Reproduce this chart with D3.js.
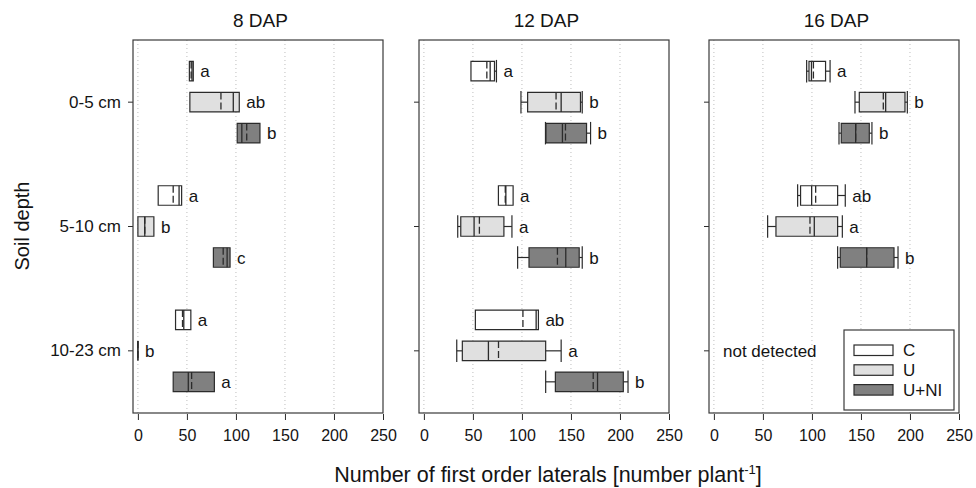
<!DOCTYPE html>
<html>
<head>
<meta charset="utf-8">
<script src="https://cdn.jsdelivr.net/npm/d3@7/dist/d3.min.js"></script>
<style>
  html, body { margin: 0; padding: 0; background: #fff; }
  svg { display: block; font-family: "Liberation Sans", Arial, sans-serif; }
</style>
</head>
<body>
<svg id="chart" width="976" height="488"></svg>
<script>
// Sampling days (panels), soil depths (rows) and fertiliser treatments
const days = ["8 DAP", "12 DAP", "16 DAP"];
const depths = ["0-5 cm", "5-10 cm", "10-23 cm"];
const treatments = ["C", "U", "U+NI"];
const fills = ["#ffffff", "#e0e0e0", "#808080"];
const xTicks = [0, 50, 100, 150, 200, 250];

// Box statistics, indexed [day][depth][treatment]; null = not measured
const whiskerLow = [
  [[null, null, null], [null, null, null], [null, null, null]],
  [[null, 99, 124], [null, 34.5, 95.6], [null, 33.5, 124.2]],
  [[94.6, 143.9, 127.6], [85.4, 54.8, 126.2], [null, null, null]]
];
const quartile1 = [
  [[52.5, 53, 101.3], [20.7, 0, 77], [38.4, 0, 36]],
  [[48, 105.8, 124.5], [76, 37.6, 107.2], [52.5, 39.2, 134.1]],
  [[97, 148.3, 129.9], [88.4, 63.3, 128.9], [null, null, null]]
];
const medians = [
  [[55.2, 97.3, 106], [42, 7, 91], [46.8, 0, 51.4]],
  [[67.6, 140, 141.3], [83.6, 51.2, 144.7], [114.5, 65.8, 177.1]],
  [[99.5, 175.2, 144.6], [99.7, 102.4, 155.8], [null, null, null]]
];
const means = [
  [[54.3, 84.7, 111], [36, 7, 87], [45.5, 0, 54.8]],
  [[64.2, 134.8, 144.4], [83, 56.6, 136.2], [101, 76.1, 172.7]],
  [[101.5, 172.8, 144.6], [103.8, 98, 155.8], [null, null, null]]
];
const quartile3 = [
  [[56.5, 103.4, 124.5], [44.6, 16.3, 94], [54, 0, 78]],
  [[72, 159.7, 165.9], [91, 81.6, 158.4], [116.8, 124.2, 203.4]],
  [[113.9, 194.9, 158.5], [126.2, 126.2, 183.7], [null, null, null]]
];
const whiskerHigh = [
  [[null, null, null], [null, null, null], [null, null, null]],
  [[74, 161.5, 170], [null, 89.8, 161.5], [null, 140, 208.2]],
  [[118.5, 197.3, 161.2], [134, 131, 187.8], [null, null, null]]
];
const letters = [
  [["a", "ab", "b"], ["a", "b", "c"], ["a", "b", "a"]],
  [["a", "b", "b"], ["a", "a", "b"], ["ab", "a", "b"]],
  [["a", "b", "b"], ["ab", "a", "b"], [null, null, null]]
];

const svg = d3.select("#chart");
const ink = "#2b2b2b";
const textInk = "#141414";
const frameTop = 40, frameBottom = 413;
const panelLeft = [133, 419, 709];
const panelWidth = 250;
const boxH = 19.5;
const offsets = [-31, 0, 31];

const y = d3.scaleBand().domain(depths).range([frameTop, frameBottom]);

days.forEach((day, d) => {
  const x = d3.scaleLinear().domain([-5, 250]).range([panelLeft[d], panelLeft[d] + panelWidth]);
  const g = svg.append("g");

  // dotted vertical grid
  g.selectAll("line.grid").data(xTicks.slice(0, -1)).join("line")
    .attr("x1", v => x(v)).attr("x2", v => x(v))
    .attr("y1", frameTop).attr("y2", frameBottom)
    .attr("stroke", "#bdbdbd").attr("stroke-width", 1)
    .attr("stroke-dasharray", "1,3");

  // bottom axis
  const xAxis = d3.axisBottom(x).tickValues(xTicks).tickSize(6).tickPadding(10).tickSizeOuter(0);
  const ax = g.append("g").attr("transform", `translate(0,${frameBottom + 1})`).call(xAxis);
  ax.select(".domain").remove();
  ax.selectAll(".tick line").attr("stroke", ink);
  ax.selectAll(".tick text").attr("fill", textInk).style("font-size", "16px")
    .style("font-family", "'Liberation Sans', Arial, sans-serif");

  // left axis ticks (labels only on first panel)
  const yAxis = d3.axisLeft(y).tickSize(5).tickPadding(7).tickSizeOuter(0);
  const ay = g.append("g").attr("transform", `translate(${panelLeft[d]},0)`).call(yAxis);
  ay.select(".domain").remove();
  ay.selectAll(".tick line").attr("stroke", ink);
  ay.selectAll(".tick text").attr("fill", textInk).style("font-size", "17px")
    .style("font-family", "'Liberation Sans', Arial, sans-serif");
  if (d > 0) ay.selectAll(".tick text").remove();

  // panel title
  g.append("text").attr("x", x(0) + (x(250) - x(0)) / 2).attr("y", 27)
    .attr("text-anchor", "middle").style("font-size", "19px").attr("fill", textInk).text(day);

  depths.forEach((dep, r) => {
    const yc0 = y(dep) + y.bandwidth() / 2;
    let any = false;
    treatments.forEach((t, k) => {
      const q1 = quartile1[d][r][k];
      if (q1 == null) return;
      any = true;
      const q3 = quartile3[d][r][k];
      const med = medians[d][r][k];
      const mean = means[d][r][k];
      const lo = whiskerLow[d][r][k];
      const hi = whiskerHigh[d][r][k];
      const yc = yc0 + offsets[k];
      const top = yc - boxH / 2, bot = yc + boxH / 2;
      const bg = g.append("g");

      // whiskers with caps
      [[lo, q1], [hi, q3]].forEach(([w, edge]) => {
        if (w == null) return;
        bg.append("line").attr("x1", x(w)).attr("x2", x(edge)).attr("y1", yc).attr("y2", yc)
          .attr("stroke", ink).attr("stroke-width", 1.2);
        bg.append("line").attr("x1", x(w)).attr("x2", x(w)).attr("y1", top - 1.5).attr("y2", bot + 1.5)
          .attr("stroke", ink).attr("stroke-width", 1.2);
      });

      // box
      bg.append("path")
        .attr("d", `M${x(q1)},${top}H${x(q3)}V${bot}H${x(q1)}Z`)
        .attr("fill", fills[k]).attr("stroke", ink).attr("stroke-width", 1.2);
      // median (solid) and mean (dashed)
      bg.append("line").attr("x1", x(med)).attr("x2", x(med)).attr("y1", top).attr("y2", bot)
        .attr("stroke", ink).attr("stroke-width", 1.3);
      bg.append("line").attr("x1", x(mean)).attr("x2", x(mean)).attr("y1", top).attr("y2", bot)
        .attr("stroke", ink).attr("stroke-width", 1.3).attr("stroke-dasharray", "7,3");

      // significance letter
      const right = Math.max(q3, hi == null ? q3 : hi);
      bg.append("text").attr("x", x(right) + 7).attr("y", yc + 6)
        .style("font-size", "17px").attr("fill", textInk).text(letters[d][r][k]);
    });
    if (!any) {
      g.append("text").attr("x", panelLeft[d] + 14).attr("y", yc0 + 6.5)
        .style("font-size", "17px").attr("fill", textInk).text("not detected");
    }
  });

  // panel frame
  g.append("rect").attr("x", panelLeft[d]).attr("y", frameTop)
    .attr("width", panelWidth).attr("height", frameBottom - frameTop)
    .attr("fill", "none").attr("stroke", "#3a3a3a").attr("stroke-width", 1.2);
});

// legend in the last panel
const lg = svg.append("g").attr("transform", "translate(844,330)");
lg.append("rect").attr("width", 110).attr("height", 80)
  .attr("fill", "#fff").attr("stroke", "#3a3a3a").attr("stroke-width", 1.2);
treatments.forEach((t, k) => {
  const yy = 15 + k * 19.8;
  lg.append("rect").attr("x", 10).attr("y", yy).attr("width", 39).attr("height", 10.5)
    .attr("fill", fills[k]).attr("stroke", ink).attr("stroke-width", 1.2);
  lg.append("text").attr("x", 59).attr("y", yy + 11).style("font-size", "17px")
    .attr("fill", textInk).text(t);
});

// axis titles
svg.append("text").attr("transform", "translate(29,226) rotate(-90)")
  .attr("text-anchor", "middle").style("font-size", "20px").attr("fill", textInk).text("Soil depth");

const xt = svg.append("text").attr("x", 548).attr("y", 482).attr("text-anchor", "middle")
  .style("font-size", "21.5px").attr("fill", textInk);
xt.append("tspan").text("Number of first order laterals [number plant");
xt.append("tspan").attr("dy", -8).style("font-size", "13px").text("-1");
xt.append("tspan").attr("dy", 8).text("]");
</script>
</body>
</html>
